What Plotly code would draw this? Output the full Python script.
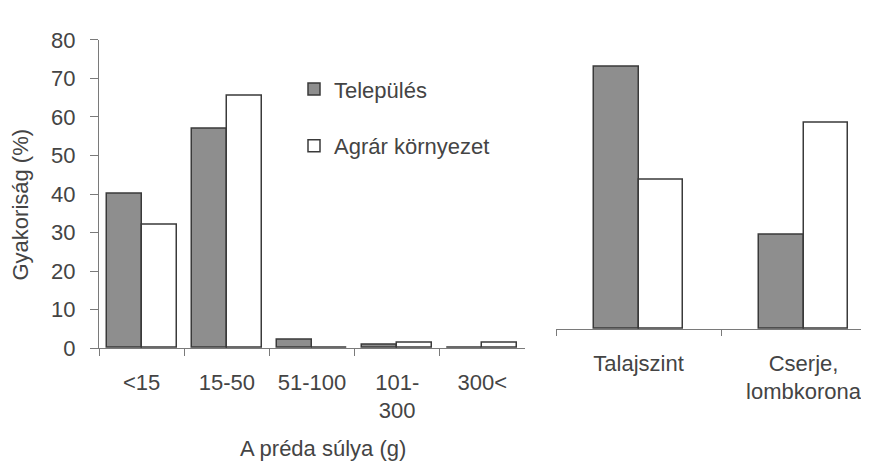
import plotly.graph_objects as go

# ---- data ----
weight_cats = ["<15", "15-50", "51-100", "101-<br>300", "300<"]
telepules_weight = [40, 57, 2.3, 0.9, 0]
agrar_weight = [32, 65.5, 0, 1.3, 1.3]

level_cats = ["Talajszint", "Cserje,<br>lombkorona"]
telepules_level = [73.5, 26.5]
agrar_level = [42, 58]

series_names = ["Település", "Agrár környezet"]
y_ticks = [0, 10, 20, 30, 40, 50, 60, 70, 80]

W, H = 869, 465
FONT = "Liberation Sans, Arial, sans-serif"
TXT = "#444444"
GRAY = "#8e8e8e"
EDGE = "#3a3a3a"
AXIS = "#7a7a7a"
FS = 22

def px_x(p):
    return p / W

def px_y(p):
    return 1 - p / H

fig = go.Figure()

# left panel
fig.add_trace(go.Bar(x=weight_cats, y=telepules_weight, name=series_names[0],
                     marker=dict(color=GRAY, line=dict(color=EDGE, width=1.5)),
                     width=0.41, offset=-0.41, xaxis="x", yaxis="y",
                     legendgroup="a"))
fig.add_trace(go.Bar(x=weight_cats, y=agrar_weight, name=series_names[1],
                     marker=dict(color="white", line=dict(color=EDGE, width=1.5)),
                     width=0.41, offset=0, xaxis="x", yaxis="y",
                     legendgroup="b"))
# right panel
fig.add_trace(go.Bar(x=level_cats, y=telepules_level, name=series_names[0],
                     marker=dict(color=GRAY, line=dict(color=EDGE, width=1.5)),
                     width=0.267, offset=-0.267, xaxis="x2", yaxis="y2",
                     showlegend=False, legendgroup="a"))
fig.add_trace(go.Bar(x=level_cats, y=agrar_level, name=series_names[1],
                     marker=dict(color="white", line=dict(color=EDGE, width=1.5)),
                     width=0.267, offset=0, xaxis="x2", yaxis="y2",
                     showlegend=False, legendgroup="b"))

fig.update_layout(
    width=W, height=H,
    margin=dict(l=0, r=0, t=0, b=0),
    paper_bgcolor="white", plot_bgcolor="white",
    font=dict(family=FONT, size=FS, color=TXT),
    xaxis=dict(domain=[px_x(91), px_x(517)], range=[-0.5, 4.5],
               type="category", tickson="boundaries",
               showline=True, linecolor=AXIS, linewidth=1,
               ticks="outside", ticklen=7, tickcolor=AXIS,
               ticklabelstandoff=14, showgrid=False, zeroline=False,
               anchor="y", fixedrange=True),
    yaxis=dict(domain=[px_y(347), px_y(21)], range=[0, 80],
               tickvals=y_ticks, showline=True, linecolor=AXIS, linewidth=1,
               ticks="outside", ticklen=8, tickcolor=AXIS,
               ticklabelstandoff=10, showgrid=False, zeroline=False,
               anchor="x"),
    xaxis2=dict(domain=[px_x(548), 1.0], range=[-0.5, 1.445],
                type="category", tickson="boundaries",
                showline=True, linecolor=AXIS, linewidth=1,
                ticks="outside", ticklen=6, tickcolor=AXIS,
                ticklabelstandoff=14, showgrid=False, zeroline=False,
                anchor="y2"),
    yaxis2=dict(domain=[px_y(326.7), px_y(21)], range=[0, 81.2],
                visible=False, anchor="x2"),
    bargap=0,
    legend=dict(x=px_x(286), y=px_y(51), xanchor="left", yanchor="top",
                font=dict(size=FS, color=TXT), tracegroupgap=25,
                traceorder="grouped", bgcolor="rgba(0,0,0,0)",
                itemclick=False),
    annotations=[
        dict(text="Gyakoriság (%)", textangle=-90, x=px_x(13), y=px_y(195),
             xref="paper", yref="paper", xanchor="center", yanchor="middle",
             showarrow=False, font=dict(size=FS, color=TXT)),
        dict(text="A préda súlya (g)", x=px_x(315), y=px_y(453),
             xref="paper", yref="paper", xanchor="center", yanchor="middle",
             showarrow=False, font=dict(size=FS, color=TXT)),
    ],
)

fig.write_html("out.html")
